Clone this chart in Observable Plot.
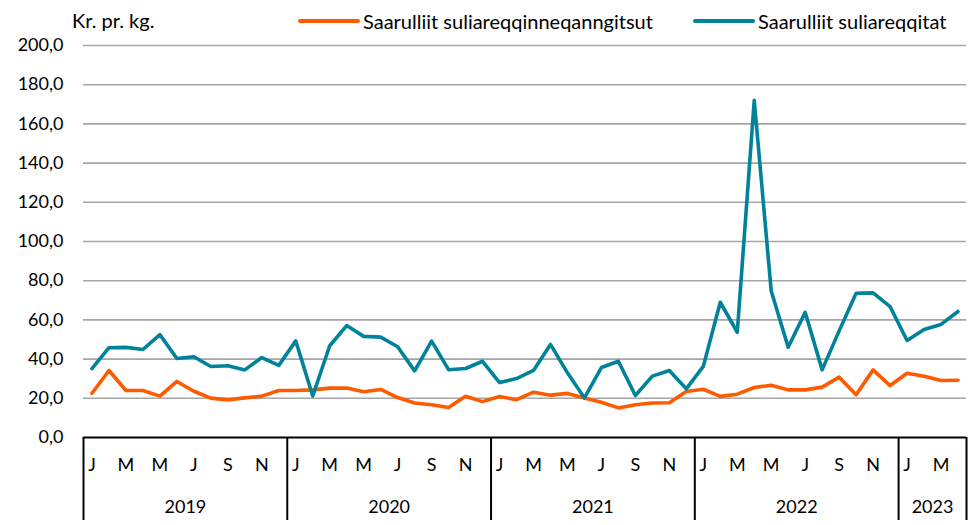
<!DOCTYPE html>
<html><head><meta charset="utf-8">
<script src="https://cdn.jsdelivr.net/npm/d3@7"></script>
<script src="https://cdn.jsdelivr.net/npm/@observablehq/plot@0.6"></script>
<style>
body{margin:0;background:#fff;font-family:Lato,"Noto Sans",sans-serif;color:#000;}
#wrap{position:relative;width:976px;height:525px;}
.lg{position:absolute;top:8px;display:flex;align-items:center;font-size:20px;white-space:nowrap;line-height:26px;}
.sw{display:inline-block;width:62px;height:4px;border-radius:2px;margin-right:3px;}
#unit{position:absolute;left:72px;top:7px;font-size:20px;line-height:26px;}
</style></head>
<body><div id="wrap"></div>
<script>
const years = ["2019","2020","2021","2022","2023"];
const monthsPerYear = [12,12,12,12,4];
const monthTickLabels = ["J","M","M","J","S","N"];
const seriesNames = ["Saarulliit suliareqqinneqanngitsut","Saarulliit suliareqqitat"];
const seriesColors = ["#FE5B00","#00839A"];
const unitLabel = "Kr. pr. kg.";
const yTicks = [0,20,40,60,80,100,120,140,160,180,200];
const unprocessed = [
  22.6,34.2,24.0,24.0,21.1,28.6,23.6,20.1,19.2,20.2,21.1,24.0,
  24.0,24.3,25.2,25.2,23.3,24.5,20.4,17.6,16.7,15.3,21.0,18.3,
  20.9,19.3,23.1,21.6,22.5,20.2,18.0,15.1,16.7,17.6,17.7,23.5,
  24.6,21.0,22.1,25.5,26.7,24.3,24.3,25.7,30.8,21.8,34.5,26.5,
  32.8,31.3,29.1,29.2
];
const processed = [
  35.1,45.8,46.0,44.9,52.5,40.3,41.2,36.2,36.6,34.5,40.8,36.8,
  49.3,21.2,46.8,57.1,51.6,51.2,46.3,34.0,49.2,34.6,35.2,38.9,
  28.0,30.1,34.2,47.5,33.0,20.2,35.7,38.9,21.4,31.3,34.2,24.8,
  36.3,69.0,53.7,172.0,74.7,46.0,63.9,34.5,54.4,73.6,73.8,66.8,
  49.5,55.1,57.7,64.3
];

// derived positions
const starts = [];
let acc = 0;
for (const n of monthsPerYear) { starts.push(acc); acc += n; }
const nMonths = acc;
const monthTicks = [], monthLabelMap = new Map();
starts.forEach((s, k) => {
  for (let m = 0; m < monthsPerYear[k]; m += 2) {
    monthTicks.push(s + m);
    monthLabelMap.set(s + m, monthTickLabels[m / 2]);
  }
});
const yearCenters = starts.map((s, k) => s + (monthsPerYear[k] - 1) / 2);
const yearLabelMap = new Map(yearCenters.map((c, k) => [c, years[k]]));
const boundaries = [...starts.map(s => s - 0.5), nMonths - 0.5];

const data = [];
[unprocessed, processed].forEach((arr, k) => arr.forEach((v, i) => data.push({i, v, s: seriesNames[k]})));

const fmt = d => d.toFixed(1).replace(".", ",");

const chart = Plot.plot({
  width: 976, height: 525,
  marginLeft: 83, marginRight: 10, marginTop: 45, marginBottom: 88,
  style: {fontFamily: 'Lato,"Noto Sans",sans-serif', fontSize: "18px", color: "#000", background: "#fff", overflow: "visible"},
  x: {domain: [-0.5, nMonths - 0.5], axis: null},
  y: {domain: [0, 200], axis: null},
  color: {domain: seriesNames, range: seriesColors},
  marks: [
    Plot.ruleY(yTicks.filter(d => d > 0), {stroke: "#a6a6a6", strokeWidth: 1.6}),
    Plot.axisY({ticks: yTicks, tickSize: 0, tickPadding: 20, tickFormat: fmt, label: null}),
    Plot.line(data, {x: "i", y: "v", z: "s", stroke: "s", strokeWidth: 3.6, strokeLinejoin: "round"}),
    Plot.ruleY([0], {stroke: "#000", strokeWidth: 2}),
    Plot.axisX({ticks: monthTicks, tickSize: 0, tickPadding: 21, tickFormat: d => monthLabelMap.get(d), label: null}),
    Plot.axisX({ticks: yearCenters, tickSize: 0, tickPadding: 63, tickFormat: d => yearLabelMap.get(d), label: null}),
    Plot.axisX({ticks: boundaries, tickSize: 83, tickFormat: () => "", label: null, stroke: "#000", strokeWidth: 2})
  ]
});

const wrap = document.getElementById("wrap");
wrap.appendChild(chart);
const unit = document.createElement("div");
unit.id = "unit"; unit.textContent = unitLabel;
wrap.appendChild(unit);
const legendLeft = [298, 693];
seriesNames.forEach((name, k) => {
  const lg = document.createElement("div");
  lg.className = "lg"; lg.style.left = legendLeft[k] + "px";
  const sw = document.createElement("span");
  sw.className = "sw"; sw.style.background = seriesColors[k];
  lg.appendChild(sw);
  lg.appendChild(document.createTextNode(name));
  wrap.appendChild(lg);
});
</script>
</body></html>
